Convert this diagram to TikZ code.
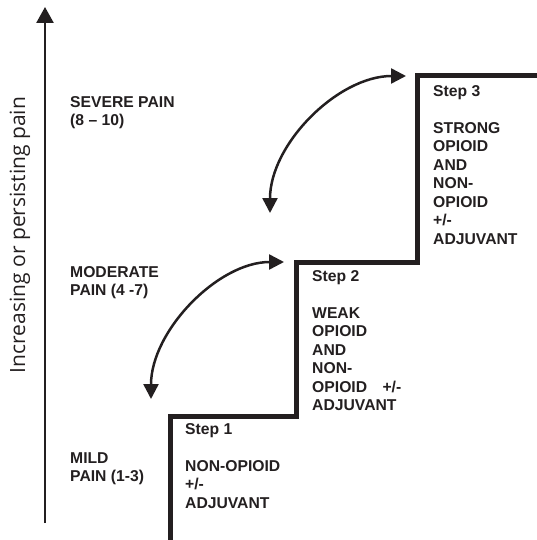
\documentclass[tikz,border=0pt]{standalone}
\usepackage{fontspec}
\setmainfont{Liberation Sans}
\newfontfamily\axisfont{Open Sans}
\usetikzlibrary{arrows.meta}
\definecolor{ink}{HTML}{231F20}
\begin{document}
\begin{tikzpicture}[x=1pt,y=-1pt,
  lbl/.style={font=\bfseries\fontsize{15.7}{18.5}\selectfont, text=ink, align=left, anchor=north west, inner sep=0pt},
  stair/.style={draw=ink, line width=5pt, line join=miter},
  curv/.style={draw=ink, line width=2.5pt, {Triangle[length=15pt,width=15pt]}-{Triangle[length=15pt,width=15pt]}},
  axisarrow/.style={draw=ink, line width=2.5pt, -{Triangle[length=16pt,width=17pt]}}
]
\useasboundingbox (0,0) rectangle (537,540);

% vertical axis
\coordinate (ax0) at (45,523);
\coordinate (ax1) at (45,7);
\draw[axisarrow] (ax0) -- (ax1);
\node[font=\axisfont\fontsize{21}{25}\selectfont, rotate=90, text=ink] (axl) at (20,235) {Increasing or persisting pain};

% staircase
\coordinate (s0) at (170,545);
\coordinate (c1) at (296,416);
\coordinate (c2) at (417.5,262);
\coordinate (c3) at (540,76);
\draw[stair] (s0) |- (c1) |- (c2) |- (c3);

% curved arrows
\coordinate (ta) at (270,213);
\coordinate (tb) at (406,76);
\draw[curv] (ta) .. controls (270,144) and (338,76) .. (tb);
\coordinate (ba) at (151,399);
\coordinate (bb) at (284,262);
\draw[curv] (ba) .. controls (151,331) and (218,262) .. (bb);

% pain labels
\node[lbl] (sev) at (70,96) {SEVERE PAIN\\(8 – 10)};
\node[lbl] (mod) at (70,266) {MODERATE\\PAIN (4 -7)};
\node[lbl] (mild) at (70,452) {MILD\\PAIN (1-3)};

% step labels
\node[lbl] (st1) at (185,423) {Step 1\\[18.5pt]NON-OPIOID\\+/-\\ADJUVANT};
\node[lbl] (st2) at (312,270) {Step 2\\[18.5pt]WEAK\\OPIOID\\AND\\NON-\\OPIOID\hspace{11pt} +/-\\ADJUVANT};
\node[lbl] (st3) at (433,85) {Step 3\\[18.5pt]STRONG\\OPIOID\\AND\\NON-\\OPIOID\\+/-\\ADJUVANT};
\end{tikzpicture}
\end{document}
